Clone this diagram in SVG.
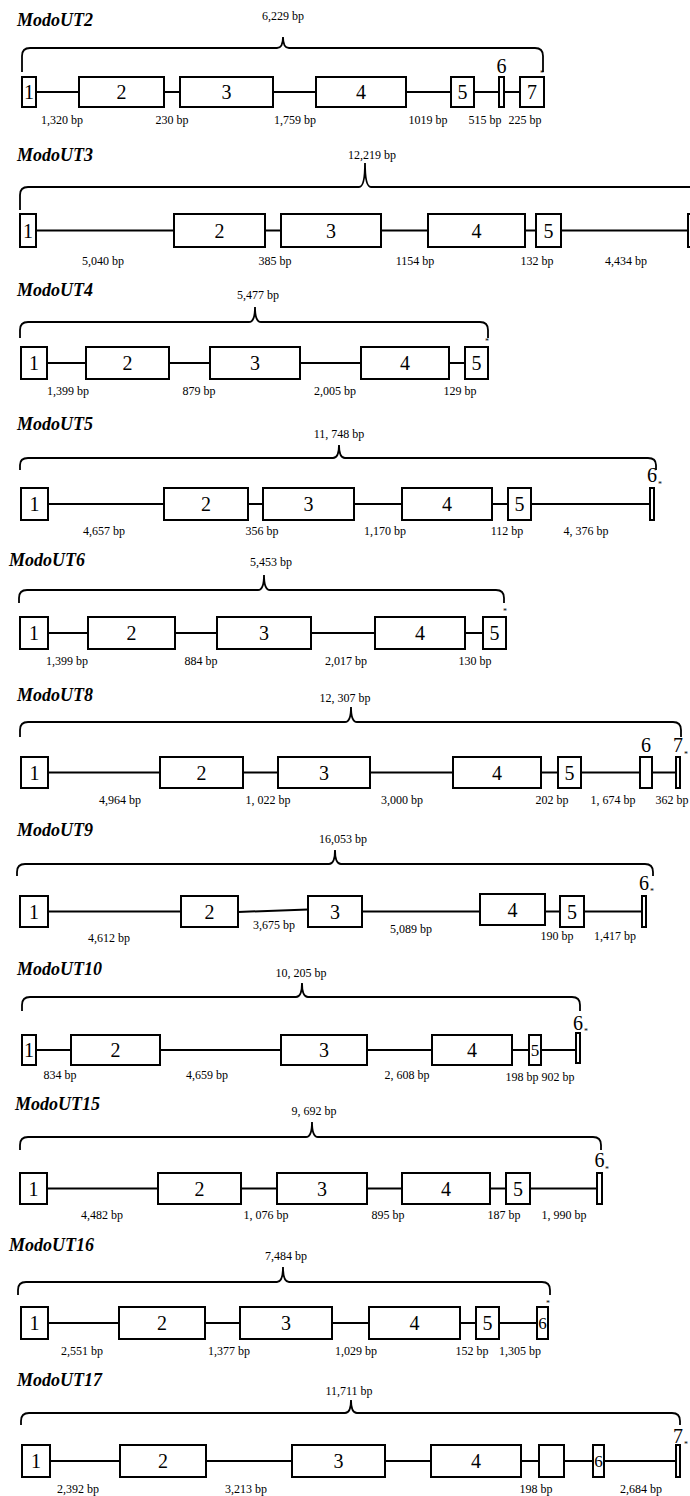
<svg xmlns="http://www.w3.org/2000/svg" width="690" height="1496" viewBox="0 0 690 1496">
<style>
.t{font-family:"Liberation Serif","Times New Roman",serif;font-weight:bold;font-style:italic;font-size:18px}
.bp{font-family:"Liberation Serif","Times New Roman",serif;font-size:12px;text-anchor:middle}
.n{font-family:"Liberation Serif","Times New Roman",serif;font-size:20px;text-anchor:middle}
.ns{font-family:"Liberation Serif","Times New Roman",serif;font-size:17px;text-anchor:middle}
.st{font-family:"Liberation Serif","Times New Roman",serif;font-size:8px;text-anchor:middle}
.ex{fill:#fff;stroke:#000;stroke-width:2}
.in{stroke:#000;stroke-width:2;fill:none}
.br{fill:none;stroke:#000;stroke-width:1.8}
</style>
<rect width="690" height="1496" fill="#fff"/>

<!-- ModoUT2 -->
<g id="modout2">
<text class="t" x="17" y="26">ModoUT2</text>
<text class="bp" x="283" y="20">6,229 bp</text>
<path class="br" d="M22,72 V56 Q22,48 30,48 H277 Q283,48 283,37 Q283,48 289,48 H535 Q543,48 543,56 V72"/>
<g id="modout2-connectors">
<line class="in" x1="36" y1="92" x2="79" y2="92"/><line class="in" x1="164" y1="92" x2="180" y2="92"/><line class="in" x1="273" y1="92" x2="316" y2="92"/><line class="in" x1="406" y1="92" x2="451" y2="92"/><line class="in" x1="474" y1="92" x2="499" y2="92"/><line class="in" x1="504" y1="92" x2="520" y2="92"/>
</g>
<g id="modout2-e1"><rect class="ex" x="22" y="77" width="14" height="30"/><text class="n" x="29" y="99">1</text></g>
<g id="modout2-e2"><rect class="ex" x="79" y="77" width="85" height="30"/><text class="n" x="121.5" y="99">2</text></g>
<g id="modout2-e3"><rect class="ex" x="180" y="77" width="93" height="30"/><text class="n" x="226.5" y="99">3</text></g>
<g id="modout2-e4"><rect class="ex" x="316" y="77" width="90" height="30"/><text class="n" x="361" y="99">4</text></g>
<g id="modout2-e5"><rect class="ex" x="451" y="77" width="23" height="30"/><text class="n" x="462.5" y="99">5</text></g>
<g id="modout2-e6"><rect class="ex" x="499" y="77" width="5" height="30"/><text class="n" x="501.5" y="73">6</text></g>
<g id="modout2-e7"><rect class="ex" x="520" y="77" width="24" height="30"/><text class="n" x="532" y="99">7</text><text class="st" x="542" y="76">*</text></g>
<text class="bp" x="62" y="124">1,320 bp</text><text class="bp" x="172" y="124">230 bp</text><text class="bp" x="295" y="124">1,759 bp</text><text class="bp" x="428" y="124">1019 bp</text><text class="bp" x="485" y="124">515 bp</text><text class="bp" x="525" y="124">225 bp</text>
</g>

<!-- ModoUT3 -->
<g id="modout3">
<text class="t" x="17" y="161">ModoUT3</text>
<text class="bp" x="372" y="159">12,219 bp</text>
<path class="br" d="M20,210 V195 Q20,187 28,187 H359 Q365,187 365,163 Q365,187 371,187 H692"/>
<g id="modout3-connectors">
<line class="in" x1="36" y1="230.5" x2="174" y2="230.5"/><line class="in" x1="265" y1="230.5" x2="281" y2="230.5"/><line class="in" x1="381" y1="230.5" x2="428" y2="230.5"/><line class="in" x1="525" y1="230.5" x2="536" y2="230.5"/><line class="in" x1="561" y1="230.5" x2="688" y2="230.5"/>
</g>
<g id="modout3-e1"><rect class="ex" x="20" y="214" width="16" height="33"/><text class="n" x="28" y="237.5">1</text></g>
<g id="modout3-e2"><rect class="ex" x="174" y="214" width="91" height="33"/><text class="n" x="219.5" y="237.5">2</text></g>
<g id="modout3-e3"><rect class="ex" x="281" y="214" width="100" height="33"/><text class="n" x="331" y="237.5">3</text></g>
<g id="modout3-e4"><rect class="ex" x="428" y="214" width="97" height="33"/><text class="n" x="476.5" y="237.5">4</text></g>
<g id="modout3-e5"><rect class="ex" x="536" y="214" width="25" height="33"/><text class="n" x="548.5" y="237.5">5</text></g>
<g id="modout3-e6"><rect class="ex" x="688" y="214" width="12" height="33"/></g>
<text class="bp" x="103" y="265">5,040 bp</text><text class="bp" x="275" y="265">385 bp</text><text class="bp" x="415" y="265">1154 bp</text><text class="bp" x="537" y="265">132 bp</text><text class="bp" x="626" y="265">4,434 bp</text>
</g>

<!-- ModoUT4 -->
<g id="modout4">
<text class="t" x="17" y="296">ModoUT4</text>
<text class="bp" x="258" y="299">5,477 bp</text>
<path class="br" d="M20,338 V330 Q20,322 28,322 H249 Q255,322 255,307 Q255,322 261,322 H480 Q488,322 488,330 V338"/>
<g id="modout4-connectors">
<line class="in" x1="47" y1="363" x2="86" y2="363"/><line class="in" x1="169" y1="363" x2="210" y2="363"/><line class="in" x1="300" y1="363" x2="361" y2="363"/><line class="in" x1="449" y1="363" x2="465" y2="363"/>
</g>
<g id="modout4-e1"><rect class="ex" x="21" y="347" width="26" height="32"/><text class="n" x="34" y="370">1</text></g>
<g id="modout4-e2"><rect class="ex" x="86" y="347" width="83" height="32"/><text class="n" x="127.5" y="370">2</text></g>
<g id="modout4-e3"><rect class="ex" x="210" y="347" width="90" height="32"/><text class="n" x="255" y="370">3</text></g>
<g id="modout4-e4"><rect class="ex" x="361" y="347" width="88" height="32"/><text class="n" x="405" y="370">4</text></g>
<g id="modout4-e5"><rect class="ex" x="465" y="347" width="23" height="32"/><text class="n" x="476.5" y="370">5</text><text class="st" x="487" y="344">*</text></g>
<text class="bp" x="68" y="395">1,399 bp</text><text class="bp" x="199" y="395">879 bp</text><text class="bp" x="335" y="395">2,005 bp</text><text class="bp" x="460" y="395">129 bp</text>
</g>

<!-- ModoUT5 -->
<g id="modout5">
<text class="t" x="17" y="430">ModoUT5</text>
<text class="bp" x="339" y="438">11, 748 bp</text>
<path class="br" d="M20,470 V465 Q20,458 28,458 H333 Q339,458 339,445 Q339,458 345,458 H648 Q656,458 656,465 V470"/>
<g id="modout5-connectors">
<line class="in" x1="48" y1="504" x2="164" y2="504"/><line class="in" x1="248" y1="504" x2="263" y2="504"/><line class="in" x1="354" y1="504" x2="402" y2="504"/><line class="in" x1="492" y1="504" x2="508" y2="504"/><line class="in" x1="531" y1="504" x2="650" y2="504"/>
</g>
<g id="modout5-e1"><rect class="ex" x="21" y="488" width="27" height="32"/><text class="n" x="34.5" y="511">1</text></g>
<g id="modout5-e2"><rect class="ex" x="164" y="488" width="84" height="32"/><text class="n" x="206" y="511">2</text></g>
<g id="modout5-e3"><rect class="ex" x="263" y="488" width="91" height="32"/><text class="n" x="308.5" y="511">3</text></g>
<g id="modout5-e4"><rect class="ex" x="402" y="488" width="90" height="32"/><text class="n" x="447" y="511">4</text></g>
<g id="modout5-e5"><rect class="ex" x="508" y="488" width="23" height="32"/><text class="n" x="519.5" y="511">5</text></g>
<g id="modout5-e6"><rect class="ex" x="650" y="488" width="4" height="32"/><text class="n" x="652" y="482">6</text><text class="st" x="660" y="487">*</text></g>
<text class="bp" x="104" y="535">4,657 bp</text><text class="bp" x="262" y="535">356 bp</text><text class="bp" x="385" y="535">1,170 bp</text><text class="bp" x="507" y="535">112 bp</text><text class="bp" x="586" y="535">4, 376 bp</text>
</g>

<!-- ModoUT6 -->
<g id="modout6">
<text class="t" x="9" y="566">ModoUT6</text>
<text class="bp" x="271" y="566">5,453 bp</text>
<path class="br" d="M19,603 V598 Q19,590 27,590 H258 Q264,590 264,575 Q264,590 270,590 H496 Q504,590 504,598 V603"/>
<g id="modout6-connectors">
<line class="in" x1="48" y1="633" x2="88" y2="633"/><line class="in" x1="175" y1="633" x2="217" y2="633"/><line class="in" x1="311" y1="633" x2="375" y2="633"/><line class="in" x1="465" y1="633" x2="483" y2="633"/>
</g>
<g id="modout6-e1"><rect class="ex" x="20" y="617" width="28" height="32"/><text class="n" x="34" y="640">1</text></g>
<g id="modout6-e2"><rect class="ex" x="88" y="617" width="87" height="32"/><text class="n" x="131.5" y="640">2</text></g>
<g id="modout6-e3"><rect class="ex" x="217" y="617" width="94" height="32"/><text class="n" x="264" y="640">3</text></g>
<g id="modout6-e4"><rect class="ex" x="375" y="617" width="90" height="32"/><text class="n" x="420" y="640">4</text></g>
<g id="modout6-e5"><rect class="ex" x="483" y="617" width="23" height="32"/><text class="n" x="494.5" y="640">5</text><text class="st" x="505" y="614">*</text></g>
<text class="bp" x="67" y="665">1,399 bp</text><text class="bp" x="201" y="665">884 bp</text><text class="bp" x="346" y="665">2,017 bp</text><text class="bp" x="475" y="665">130 bp</text>
</g>

<!-- ModoUT8 -->
<g id="modout8">
<text class="t" x="17" y="701">ModoUT8</text>
<text class="bp" x="345" y="702">12, 307 bp</text>
<path class="br" d="M20,737 V730 Q20,722 28,722 H345 Q351,722 351,707 Q351,722 357,722 H673 Q681,722 681,730 V737"/>
<g id="modout8-connectors">
<line class="in" x1="48" y1="772.5" x2="160" y2="772.5"/><line class="in" x1="243" y1="772.5" x2="278" y2="772.5"/><line class="in" x1="370" y1="772.5" x2="453" y2="772.5"/><line class="in" x1="541" y1="772.5" x2="558" y2="772.5"/><line class="in" x1="581" y1="772.5" x2="640" y2="772.5"/><line class="in" x1="652" y1="772.5" x2="676" y2="772.5"/>
</g>
<g id="modout8-e1"><rect class="ex" x="21" y="757" width="27" height="31"/><text class="n" x="34.5" y="779.5">1</text></g>
<g id="modout8-e2"><rect class="ex" x="160" y="757" width="83" height="31"/><text class="n" x="201.5" y="779.5">2</text></g>
<g id="modout8-e3"><rect class="ex" x="278" y="757" width="92" height="31"/><text class="n" x="324" y="779.5">3</text></g>
<g id="modout8-e4"><rect class="ex" x="453" y="757" width="88" height="31"/><text class="n" x="497" y="779.5">4</text></g>
<g id="modout8-e5"><rect class="ex" x="558" y="757" width="23" height="31"/><text class="n" x="569.5" y="779.5">5</text></g>
<g id="modout8-e6"><rect class="ex" x="640" y="757" width="12" height="31"/><text class="n" x="646" y="752">6</text></g>
<g id="modout8-e7"><rect class="ex" x="676" y="757" width="4" height="31"/><text class="n" x="678" y="752">7</text><text class="st" x="686" y="757">*</text></g>
<text class="bp" x="120" y="804">4,964 bp</text><text class="bp" x="268" y="804">1, 022 bp</text><text class="bp" x="402" y="804">3,000 bp</text><text class="bp" x="552" y="804">202 bp</text><text class="bp" x="613" y="804">1, 674 bp</text><text class="bp" x="672" y="804">362 bp</text>
</g>

<!-- ModoUT9 -->
<g id="modout9">
<text class="t" x="17" y="836">ModoUT9</text>
<text class="bp" x="343" y="843">16,053 bp</text>
<path class="br" d="M17,876 V872 Q17,864 25,864 H329 Q335,864 335,850 Q335,864 341,864 H645 Q653,864 653,872 V876"/>
<g id="modout9-connectors">
<line class="in" x1="48" y1="911.5" x2="181" y2="911.5"/><line class="in" x1="238" y1="912" x2="308" y2="909.5"/><line class="in" x1="362" y1="911.5" x2="480" y2="911.5"/><line class="in" x1="545" y1="911.5" x2="560" y2="911.5"/><line class="in" x1="584" y1="911.5" x2="642" y2="911.5"/>
</g>
<g id="modout9-e1"><rect class="ex" x="20" y="896" width="28" height="31"/><text class="n" x="34" y="918.5">1</text></g>
<g id="modout9-e2"><rect class="ex" x="181" y="896" width="57" height="31"/><text class="n" x="209.5" y="918.5">2</text></g>
<g id="modout9-e3"><rect class="ex" x="308" y="896" width="54" height="31"/><text class="n" x="335" y="918.5">3</text></g>
<g id="modout9-e4"><rect class="ex" x="480" y="894" width="65" height="31"/><text class="n" x="512.5" y="916.5">4</text></g>
<g id="modout9-e5"><rect class="ex" x="560" y="896" width="24" height="31"/><text class="n" x="572" y="918.5">5</text></g>
<g id="modout9-e6"><rect class="ex" x="642" y="896" width="4" height="31"/><text class="n" x="644" y="890">6</text><text class="st" x="652" y="894">*</text></g>
<text class="bp" x="109" y="942">4,612 bp</text><text class="bp" x="274" y="929">3,675 bp</text><text class="bp" x="411" y="933">5,089 bp</text><text class="bp" x="557" y="940">190 bp</text><text class="bp" x="615" y="940">1,417 bp</text>
</g>

<!-- ModoUT10 -->
<g id="modout10">
<text class="t" x="17" y="975">ModoUT10</text>
<text class="bp" x="301" y="977">10, 205 bp</text>
<path class="br" d="M22,1011 V1005 Q22,997 30,997 H296 Q302,997 302,983 Q302,997 308,997 H572 Q580,997 580,1005 V1011"/>
<g id="modout10-connectors">
<line class="in" x1="36" y1="1050" x2="71" y2="1050"/><line class="in" x1="160" y1="1050" x2="281" y2="1050"/><line class="in" x1="367" y1="1050" x2="432" y2="1050"/><line class="in" x1="512" y1="1050" x2="529" y2="1050"/><line class="in" x1="541" y1="1050" x2="576" y2="1050"/>
</g>
<g id="modout10-e1"><rect class="ex" x="22" y="1035" width="14" height="30"/><text class="n" x="29" y="1057">1</text></g>
<g id="modout10-e2"><rect class="ex" x="71" y="1035" width="89" height="30"/><text class="n" x="115.5" y="1057">2</text></g>
<g id="modout10-e3"><rect class="ex" x="281" y="1035" width="86" height="30"/><text class="n" x="324" y="1057">3</text></g>
<g id="modout10-e4"><rect class="ex" x="432" y="1035" width="80" height="30"/><text class="n" x="472" y="1057">4</text></g>
<g id="modout10-e5"><rect class="ex" x="529" y="1035" width="12" height="30"/><text class="ns" x="535" y="1056">5</text></g>
<g id="modout10-e6"><rect class="ex" x="576" y="1033" width="4" height="30"/><text class="n" x="578" y="1030">6</text><text class="st" x="586" y="1034">*</text></g>
<text class="bp" x="60" y="1079">834 bp</text><text class="bp" x="207" y="1079">4,659 bp</text><text class="bp" x="407" y="1079">2, 608 bp</text><text class="bp" x="522" y="1081">198 bp</text><text class="bp" x="558" y="1081">902 bp</text>
</g>

<!-- ModoUT15 -->
<g id="modout15">
<text class="t" x="15" y="1110">ModoUT15</text>
<text class="bp" x="314" y="1115">9, 692 bp</text>
<path class="br" d="M20,1150 V1145 Q20,1137 28,1137 H306 Q312,1137 312,1122 Q312,1137 318,1137 H593 Q601,1137 601,1145 V1150"/>
<g id="modout15-connectors">
<line class="in" x1="47" y1="1188.5" x2="158" y2="1188.5"/><line class="in" x1="241" y1="1188.5" x2="277" y2="1188.5"/><line class="in" x1="367" y1="1188.5" x2="402" y2="1188.5"/><line class="in" x1="490" y1="1188.5" x2="506" y2="1188.5"/><line class="in" x1="530" y1="1188.5" x2="597" y2="1188.5"/>
</g>
<g id="modout15-e1"><rect class="ex" x="20" y="1173" width="27" height="31"/><text class="n" x="33.5" y="1195.5">1</text></g>
<g id="modout15-e2"><rect class="ex" x="158" y="1173" width="83" height="31"/><text class="n" x="199.5" y="1195.5">2</text></g>
<g id="modout15-e3"><rect class="ex" x="277" y="1173" width="90" height="31"/><text class="n" x="322" y="1195.5">3</text></g>
<g id="modout15-e4"><rect class="ex" x="402" y="1173" width="88" height="31"/><text class="n" x="446" y="1195.5">4</text></g>
<g id="modout15-e5"><rect class="ex" x="506" y="1173" width="24" height="31"/><text class="n" x="518" y="1195.5">5</text></g>
<g id="modout15-e6"><rect class="ex" x="597" y="1173" width="5" height="31"/><text class="n" x="599.5" y="1167">6</text><text class="st" x="607" y="1172">*</text></g>
<text class="bp" x="102" y="1219">4,482 bp</text><text class="bp" x="266" y="1219">1, 076 bp</text><text class="bp" x="388" y="1219">895 bp</text><text class="bp" x="504" y="1219">187 bp</text><text class="bp" x="564" y="1219">1, 990 bp</text>
</g>

<!-- ModoUT16 -->
<g id="modout16">
<text class="t" x="9" y="1251">ModoUT16</text>
<text class="bp" x="286" y="1260">7,484 bp</text>
<path class="br" d="M18,1295 V1290 Q18,1282 26,1282 H277 Q283,1282 283,1267 Q283,1282 289,1282 H542 Q550,1282 550,1290 V1295"/>
<g id="modout16-connectors">
<line class="in" x1="48" y1="1323" x2="119" y2="1323"/><line class="in" x1="205" y1="1323" x2="240" y2="1323"/><line class="in" x1="332" y1="1323" x2="369" y2="1323"/><line class="in" x1="460" y1="1323" x2="476" y2="1323"/><line class="in" x1="499" y1="1323" x2="537" y2="1323"/>
</g>
<g id="modout16-e1"><rect class="ex" x="21" y="1307" width="27" height="32"/><text class="n" x="34.5" y="1330">1</text></g>
<g id="modout16-e2"><rect class="ex" x="119" y="1307" width="86" height="32"/><text class="n" x="162" y="1330">2</text></g>
<g id="modout16-e3"><rect class="ex" x="240" y="1307" width="92" height="32"/><text class="n" x="286" y="1330">3</text></g>
<g id="modout16-e4"><rect class="ex" x="369" y="1307" width="91" height="32"/><text class="n" x="414.5" y="1330">4</text></g>
<g id="modout16-e5"><rect class="ex" x="476" y="1307" width="23" height="32"/><text class="n" x="487.5" y="1330">5</text></g>
<g id="modout16-e6"><rect class="ex" x="537" y="1307" width="11" height="32"/><text class="ns" x="542.5" y="1329">6</text><text class="st" x="548" y="1306">*</text></g>
<text class="bp" x="82" y="1355">2,551 bp</text><text class="bp" x="229" y="1355">1,377 bp</text><text class="bp" x="356" y="1355">1,029 bp</text><text class="bp" x="472" y="1355">152 bp</text><text class="bp" x="520" y="1355">1,305 bp</text>
</g>

<!-- ModoUT17 -->
<g id="modout17">
<text class="t" x="17" y="1386">ModoUT17</text>
<text class="bp" x="349" y="1395">11,711 bp</text>
<path class="br" d="M21,1425 V1421 Q21,1413 29,1413 H345 Q351,1413 351,1400 Q351,1413 357,1413 H672 Q680,1413 680,1421 V1425"/>
<g id="modout17-connectors">
<line class="in" x1="50" y1="1461" x2="120" y2="1461"/><line class="in" x1="206" y1="1461" x2="292" y2="1461"/><line class="in" x1="385" y1="1461" x2="431" y2="1461"/><line class="in" x1="521" y1="1461" x2="539" y2="1461"/><line class="in" x1="564" y1="1461" x2="593" y2="1461"/><line class="in" x1="604" y1="1461" x2="676" y2="1461"/>
</g>
<g id="modout17-e1"><rect class="ex" x="22" y="1445" width="28" height="32"/><text class="n" x="36" y="1468">1</text></g>
<g id="modout17-e2"><rect class="ex" x="120" y="1445" width="86" height="32"/><text class="n" x="163" y="1468">2</text></g>
<g id="modout17-e3"><rect class="ex" x="292" y="1445" width="93" height="32"/><text class="n" x="338.5" y="1468">3</text></g>
<g id="modout17-e4"><rect class="ex" x="431" y="1445" width="90" height="32"/><text class="n" x="476" y="1468">4</text></g>
<g id="modout17-e5"><rect class="ex" x="539" y="1445" width="25" height="32"/></g>
<g id="modout17-e6"><rect class="ex" x="593" y="1445" width="11" height="32"/><text class="ns" x="598.5" y="1467">6</text></g>
<g id="modout17-e7"><rect class="ex" x="676" y="1445" width="4" height="32"/><text class="n" x="678" y="1443">7</text><text class="st" x="686" y="1447">*</text></g>
<text class="bp" x="78" y="1493">2,392 bp</text><text class="bp" x="246" y="1493">3,213 bp</text><text class="bp" x="536" y="1493">198 bp</text><text class="bp" x="641" y="1493">2,684 bp</text>
</g>
</svg>
